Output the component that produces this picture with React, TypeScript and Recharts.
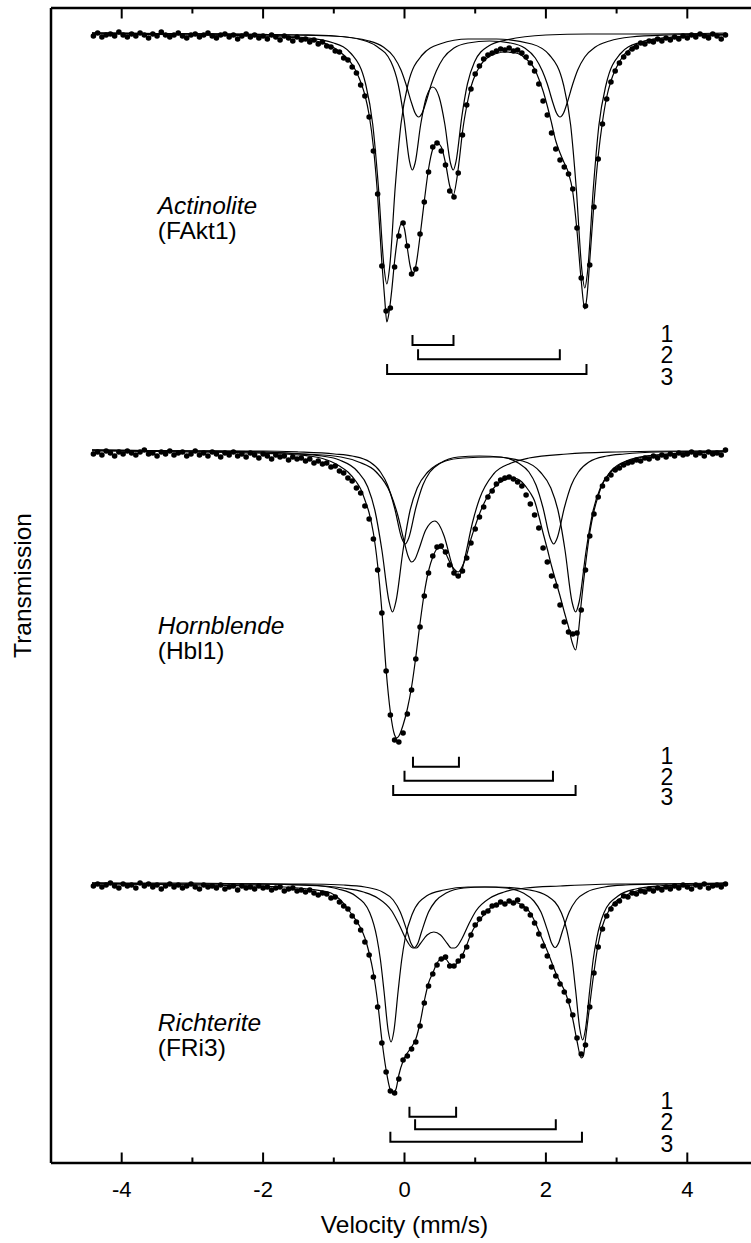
import React from 'react';
import { ComposedChart, Line, Scatter, XAxis, YAxis } from 'recharts';

const FONT = '"Liberation Sans", Arial, Helvetica, sans-serif';

// ---- velocity channels (mm/s) of the measured points ----
const channelStart = -4.4;
const channelStep = 0.06;

// ---- sample annotations ----
const spectrumNames = ['Actinolite', 'Hornblende', 'Richterite'];
const spectrumCodes = ['(FAkt1)', '(Hbl1)', '(FRi3)'];
const spectrumBaselines = [113.0, 71.3, 28.0]; // stacked offsets (a.u.)
const nameLabelV = -3.49;
const nameLabelY = [94.88, 52.88, 13.2];
const codeLineGap = 2.45;

// ---- measured absorption (depth below baseline, a.u.) per channel ----
const aktDots = [
  0.3, 0.0, 0.4, 0.2, 0.1, 0.3, -0.1, 0.2, 0.4, 0.1,
  0.3, 0.0, 0.2, 0.5, 0.1, 0.3, -0.1, 0.2, 0.4, 0.2,
  0.0, 0.3, 0.5, 0.2, 0.1, 0.4, 0.2, 0.0, 0.3, 0.5,
  0.2, 0.1, 0.4, 0.2, 0.6, 0.3, 0.1, 0.4, 0.2, 0.5,
  0.3, 0.6, 0.2, 0.4, 0.7, 0.3, 0.5, 0.8, 0.4, 0.7,
  0.6, 0.9, 0.7, 1.1, 0.9, 1.3, 1.4, 1.8, 1.9, 2.5,
  2.7, 3.4, 4.0, 5.2, 6.3, 8.4, 11.8, 16.1, 23.3, 27.8,
  27.5, 23.4, 20.3, 19.0, 21.3, 24.1, 23.6, 20.1, 16.9, 13.9,
  11.4, 11.0, 11.8, 13.2, 15.8, 16.4, 14.0, 10.2, 7.2, 5.6,
  4.1, 3.3, 2.6, 2.2, 2.0, 1.8, 1.6, 1.7, 1.5, 1.8,
  1.7, 2.0, 2.4, 3.0, 3.8, 5.1, 6.8, 8.2, 10.0, 11.6,
  12.7, 13.4, 14.1, 15.6, 19.5, 24.5, 27.3, 23.2, 17.4, 12.6,
  9.1, 6.6, 4.9, 3.8, 3.0, 2.4, 2.0, 1.6, 1.4, 1.0,
  1.1, 0.8, 0.9, 0.6, 0.8, 0.5, 0.7, 0.4, 0.6, 0.3,
  0.5, 0.2, 0.4, 0.1, 0.3, 0.5, 0.1, 0.3, 0.6, 0.2,
];
const hblDots = [
  0.4, 0.2, 0.5, 0.1, 0.3, 0.6, 0.2, 0.4, 0.1, 0.3,
  0.5, 0.2, 0.0, 0.4, 0.3, 0.6, 0.2, 0.4, 0.1, 0.5,
  0.3, 0.2, 0.6, 0.4, 0.1, 0.5, 0.3, 0.6, 0.2, 0.4,
  0.7, 0.3, 0.5, 0.2, 0.6, 0.4, 0.7, 0.3, 0.5, 0.8,
  0.4, 0.6, 0.9, 0.5, 0.7, 0.6, 1.0, 0.7, 0.9, 0.8,
  1.1, 0.9, 1.3, 1.1, 1.4, 1.3, 1.7, 1.6, 2.1, 2.3,
  2.8, 3.1, 3.8, 4.3, 5.6, 6.9, 8.9, 12.0, 16.3, 22.1,
  26.5, 29.0, 29.2, 28.3, 26.4, 24.0, 20.9, 17.7, 14.6, 12.3,
  10.6, 9.7, 9.6, 10.2, 11.5, 12.3, 12.6, 12.1, 10.8, 9.3,
  7.9, 6.7, 5.7, 4.7, 4.1, 3.4, 3.0, 2.8, 2.7, 2.9,
  3.2, 3.6, 4.5, 5.4, 6.5, 7.8, 9.8, 11.2, 12.6, 13.6,
  15.5, 17.2, 18.2, 18.4, 18.3, 16.0, 12.0, 8.6, 6.4, 4.7,
  3.6, 2.9, 2.5, 2.0, 1.8, 1.5, 1.3, 1.2, 1.0, 1.1,
  0.8, 0.9, 0.6, 0.8, 0.5, 0.7, 0.4, 0.6, 0.3, 0.5,
  0.4, 0.2, 0.5, 0.3, 0.6, 0.2, 0.4, 0.3, 0.5, 0.0,
];
const friDots = [
  0.3, 0.1, 0.4, 0.2, 0.0, 0.3, 0.5, 0.1, 0.3, 0.2,
  0.5, 0.0, 0.3, 0.1, 0.4, 0.2, 0.6, 0.3, 0.1, 0.4,
  0.2, 0.5, 0.3, 0.1, 0.4, 0.6, 0.2, 0.4, 0.3, 0.5,
  0.2, 0.6, 0.4, 0.3, 0.7, 0.3, 0.5, 0.4, 0.6, 0.3,
  0.5, 0.4, 0.7, 0.5, 0.4, 0.8, 0.6, 0.5, 0.8, 0.7,
  0.9, 0.7, 1.0, 1.2, 1.0, 1.1, 1.5, 1.4, 1.9, 2.3,
  2.6, 3.3, 3.9, 4.7, 5.9, 7.2, 9.4, 12.4, 16.0, 18.9,
  20.8, 21.0, 19.6, 17.7, 17.3, 16.6, 15.9, 14.3, 12.0, 10.3,
  9.1, 8.2, 7.6, 7.4, 8.3, 8.3, 7.8, 7.3, 6.4, 5.2,
  4.2, 3.6, 3.0, 2.8, 2.3, 2.2, 1.9, 2.1, 1.8, 2.0,
  1.7, 2.3, 2.6, 3.2, 4.0, 5.1, 6.3, 7.3, 8.4, 9.3,
  10.1, 10.9, 11.8, 13.2, 15.5, 17.1, 16.2, 12.4, 9.0, 6.4,
  4.6, 3.3, 2.6, 2.1, 1.8, 1.3, 1.4, 1.0, 1.1, 0.8,
  0.9, 0.6, 0.8, 0.5, 0.7, 0.4, 0.6, 0.3, 0.5, 0.2,
  0.4, 0.6, 0.2, 0.4, 0.1, 0.5, 0.3, 0.2, 0.4, 0.1,
];

// ---- fitted envelopes [velocity, depth] ----
type P = [number, number];
const aktFit: P[] = [
  [-4.42, 0.1], [-4.0, 0.1], [-3.5, 0.15], [-3.0, 0.2], [-2.5, 0.25], [-2.0, 0.3], [-1.7, 0.4], [-1.5, 0.5],
  [-1.34, 0.65], [-1.22, 0.85], [-1.1, 1.1], [-1.04, 1.3], [-0.98, 1.55], [-0.92, 1.85], [-0.86, 2.2], [-0.8, 2.6],
  [-0.74, 3.15], [-0.68, 3.9], [-0.62, 4.9], [-0.56, 6.2], [-0.5, 8.2], [-0.44, 11.4], [-0.38, 16.3], [-0.32, 23.0],
  [-0.28, 26.6], [-0.25, 28.9], [-0.22, 28.0], [-0.18, 25.7], [-0.14, 22.8], [-0.08, 19.8], [-0.04, 19.0], [0.0, 19.6],
  [0.04, 21.5], [0.08, 23.3], [0.12, 24.1], [0.16, 23.3], [0.22, 20.3], [0.28, 16.8], [0.34, 13.6], [0.4, 11.6],
  [0.46, 11.0], [0.52, 11.4], [0.58, 13.0], [0.64, 15.3], [0.69, 16.2], [0.74, 14.6], [0.78, 12.4], [0.82, 9.9],
  [0.88, 7.3], [0.94, 5.4], [1.0, 4.2], [1.06, 3.4], [1.12, 2.8], [1.18, 2.45], [1.24, 2.2], [1.3, 2.05],
  [1.42, 1.9], [1.54, 1.95], [1.66, 2.25], [1.72, 2.6], [1.78, 3.0], [1.84, 3.6], [1.9, 4.6], [1.96, 5.8],
  [2.02, 7.3], [2.08, 9.0], [2.14, 10.8], [2.2, 12.0], [2.26, 13.0], [2.32, 14.0], [2.38, 15.9], [2.44, 19.8],
  [2.5, 24.8], [2.55, 27.6], [2.58, 26.4], [2.62, 22.8], [2.68, 17.0], [2.74, 12.3], [2.8, 8.9], [2.86, 6.4],
  [2.92, 4.8], [2.98, 3.7], [3.04, 2.9], [3.1, 2.2], [3.16, 1.8], [3.22, 1.45], [3.28, 1.15], [3.4, 0.8],
  [3.6, 0.55], [3.8, 0.4], [4.0, 0.3], [4.3, 0.2], [4.55, 0.15],
];
const aktComp1: P[] = [
  [-4.42, 0.0], [-2.5, 0.1], [-1.5, 0.2], [-1.0, 0.3], [-0.6, 0.7], [-0.4, 1.3], [-0.19, 2.9], [-0.09, 5.1],
  [-0.01, 8.4], [0.07, 12.8], [0.11, 13.7], [0.15, 13.0], [0.23, 9.1], [0.31, 6.4], [0.4, 5.4], [0.49, 6.4],
  [0.57, 9.1], [0.65, 13.0], [0.69, 13.7], [0.73, 12.8], [0.81, 8.4], [0.89, 5.1], [0.99, 2.9], [1.19, 1.3],
  [1.44, 0.7], [2.0, 0.2], [2.6, 0.1], [3.4, 0.1], [4.55, 0.0],
];
const aktComp2: P[] = [
  [-4.42, 0.0], [-2.5, 0.1], [-1.5, 0.2], [-1.0, 0.3], [-0.5, 0.8], [-0.3, 1.4], [-0.15, 2.4], [-0.05, 3.7],
  [0.02, 5.1], [0.1, 7.0], [0.15, 8.0], [0.2, 8.4], [0.25, 8.0], [0.3, 7.0], [0.38, 5.1], [0.45, 3.8],
  [0.55, 2.5], [0.7, 1.5], [0.9, 1.0], [1.2, 0.8], [1.5, 1.0], [1.7, 1.5], [1.85, 2.5], [1.95, 3.8],
  [2.02, 5.1], [2.1, 7.0], [2.15, 8.0], [2.2, 8.4], [2.25, 8.0], [2.3, 7.0], [2.38, 5.1], [2.45, 3.7],
  [2.55, 2.4], [2.7, 1.4], [2.9, 0.8], [3.2, 0.4], [3.7, 0.2], [4.55, 0.1],
];
const aktComp3: P[] = [
  [-4.42, 0.0], [-3.0, 0.1], [-2.0, 0.2], [-1.5, 0.4], [-1.0, 1.0], [-0.75, 2.1], [-0.55, 5.1], [-0.45, 9.1],
  [-0.37, 15.3], [-0.29, 23.4], [-0.25, 25.1], [-0.21, 23.4], [-0.13, 15.3], [-0.05, 9.1], [0.05, 5.1], [0.25, 2.2],
  [0.5, 1.1], [0.9, 0.6], [1.3, 0.6], [1.8, 1.1], [2.05, 2.2], [2.25, 5.2], [2.35, 9.2], [2.43, 15.6],
  [2.51, 23.8], [2.55, 25.5], [2.59, 23.8], [2.67, 15.6], [2.75, 9.2], [2.85, 5.2], [3.05, 2.1], [3.3, 1.0],
  [3.8, 0.4], [4.55, 0.2],
];

const hblFit: P[] = [
  [-4.42, 0.1], [-4.0, 0.12], [-3.5, 0.15], [-3.0, 0.2], [-2.5, 0.25], [-2.0, 0.32], [-1.7, 0.4], [-1.5, 0.5],
  [-1.3, 0.65], [-1.16, 0.85], [-1.04, 1.15], [-0.92, 1.6], [-0.8, 2.2], [-0.68, 3.2], [-0.62, 3.9], [-0.56, 5.0],
  [-0.5, 6.3], [-0.44, 8.3], [-0.38, 11.5], [-0.32, 16.1], [-0.26, 22.0], [-0.2, 26.2], [-0.14, 28.5], [-0.11, 28.8],
  [-0.08, 28.6], [-0.02, 27.5], [0.04, 25.9], [0.1, 23.7], [0.16, 20.7], [0.22, 17.3], [0.28, 14.3], [0.34, 12.1],
  [0.4, 10.7], [0.46, 9.9], [0.52, 9.8], [0.58, 10.3], [0.64, 11.2], [0.7, 11.9], [0.76, 12.2], [0.82, 11.6],
  [0.88, 10.5], [0.94, 8.9], [1.0, 7.6], [1.06, 6.4], [1.12, 5.4], [1.18, 4.6], [1.24, 4.0], [1.3, 3.5],
  [1.36, 3.2], [1.42, 3.0], [1.48, 2.85], [1.54, 2.8], [1.6, 2.9], [1.66, 3.2], [1.72, 3.7], [1.78, 4.3],
  [1.84, 5.1], [1.9, 6.6], [1.96, 8.3], [2.02, 9.9], [2.08, 11.6], [2.14, 13.1], [2.2, 14.6], [2.26, 16.2],
  [2.32, 17.7], [2.37, 19.2], [2.42, 20.0], [2.46, 18.2], [2.5, 15.3], [2.56, 11.5], [2.62, 8.3], [2.68, 6.1],
  [2.74, 4.6], [2.8, 3.4], [2.86, 2.7], [2.92, 2.2], [2.98, 1.8], [3.04, 1.5], [3.1, 1.25], [3.2, 1.0],
  [3.28, 0.85], [3.4, 0.65], [3.6, 0.5], [3.8, 0.35], [4.0, 0.25], [4.3, 0.15], [4.55, 0.1],
];
const hblComp1: P[] = [
  [-4.42, 0.0], [-3.0, 0.1], [-2.0, 0.2], [-1.4, 0.4], [-0.9, 0.7], [-0.65, 1.2], [-0.4, 2.2], [-0.2, 4.3],
  [-0.1, 6.4], [0.0, 9.3], [0.05, 10.6], [0.1, 11.2], [0.15, 10.9], [0.2, 10.0], [0.3, 8.0], [0.43, 7.1],
  [0.56, 8.6], [0.66, 11.2], [0.71, 12.4], [0.76, 12.7], [0.81, 12.1], [0.86, 10.6], [0.96, 7.3], [1.06, 4.9],
  [1.26, 2.4], [1.51, 1.3], [1.76, 0.8], [2.3, 0.4], [3.0, 0.2], [4.0, 0.1], [4.55, 0.1],
];
const hblComp2: P[] = [
  [-4.42, 0.0], [-3.0, 0.1], [-2.0, 0.1], [-1.5, 0.2], [-0.99, 0.4], [-0.74, 0.6], [-0.49, 1.2], [-0.34, 2.2],
  [-0.24, 3.5], [-0.14, 5.8], [-0.04, 8.8], [0.01, 9.4], [0.06, 8.8], [0.16, 5.8], [0.26, 3.5], [0.36, 2.2],
  [0.51, 1.3], [0.76, 0.7], [1.06, 0.6], [1.36, 0.7], [1.61, 1.3], [1.76, 2.2], [1.86, 3.5], [1.96, 5.8],
  [2.06, 8.8], [2.11, 9.4], [2.16, 8.8], [2.26, 5.8], [2.36, 3.5], [2.46, 2.2], [2.61, 1.2], [2.86, 0.6],
  [3.11, 0.4], [3.6, 0.2], [4.55, 0.1],
];
const hblComp3: P[] = [
  [-4.42, 0.0], [-3.0, 0.1], [-2.0, 0.2], [-1.5, 0.4], [-1.17, 0.6], [-0.92, 1.0], [-0.67, 2.1], [-0.52, 3.7],
  [-0.42, 6.0], [-0.32, 10.0], [-0.22, 15.1], [-0.17, 16.2], [-0.12, 15.1], [-0.02, 10.0], [0.08, 6.0], [0.18, 3.8],
  [0.33, 2.2], [0.58, 1.1], [0.83, 0.8], [1.25, 0.7], [1.67, 1.1], [1.92, 2.2], [2.07, 3.8], [2.17, 6.0],
  [2.27, 10.0], [2.37, 15.2], [2.42, 16.2], [2.47, 15.2], [2.57, 10.0], [2.67, 6.0], [2.77, 3.8], [2.92, 2.1],
  [3.17, 1.0], [3.42, 0.6], [4.0, 0.3], [4.55, 0.2],
];

const friFit: P[] = [
  [-4.42, 0.1], [-4.0, 0.12], [-3.5, 0.15], [-3.0, 0.2], [-2.5, 0.25], [-2.0, 0.32], [-1.7, 0.4], [-1.5, 0.5],
  [-1.3, 0.65], [-1.16, 0.8], [-1.04, 1.0], [-0.92, 1.6], [-0.8, 2.6], [-0.74, 3.2], [-0.68, 3.8], [-0.62, 4.5],
  [-0.56, 5.5], [-0.5, 7.0], [-0.44, 9.0], [-0.38, 11.9], [-0.32, 15.7], [-0.26, 18.7], [-0.2, 20.7], [-0.16, 21.0],
  [-0.12, 20.6], [-0.08, 19.2], [-0.02, 17.8], [0.04, 17.0], [0.1, 16.4], [0.16, 15.6], [0.22, 14.0], [0.28, 11.8],
  [0.34, 10.0], [0.4, 9.0], [0.46, 8.0], [0.52, 7.6], [0.58, 7.6], [0.64, 8.1], [0.7, 8.2], [0.76, 7.9],
  [0.82, 7.2], [0.88, 6.2], [0.94, 5.1], [1.0, 4.3], [1.06, 3.7], [1.12, 3.2], [1.18, 2.7], [1.24, 2.4],
  [1.3, 2.2], [1.36, 2.05], [1.48, 1.95], [1.6, 2.0], [1.66, 2.2], [1.72, 2.5], [1.78, 3.0], [1.84, 3.8],
  [1.9, 4.8], [1.96, 5.8], [2.02, 6.8], [2.08, 7.9], [2.14, 9.0], [2.2, 9.9], [2.26, 10.7], [2.32, 11.9],
  [2.38, 13.6], [2.44, 15.8], [2.5, 17.5], [2.53, 17.3], [2.56, 15.6], [2.62, 12.2], [2.68, 8.9], [2.74, 6.1],
  [2.8, 4.3], [2.86, 3.2], [2.92, 2.4], [2.98, 1.9], [3.04, 1.6], [3.1, 1.35], [3.2, 1.0], [3.28, 0.8],
  [3.4, 0.6], [3.6, 0.45], [3.8, 0.35], [4.0, 0.25], [4.3, 0.15], [4.55, 0.1],
];
const friComp1: P[] = [
  [-4.42, 0.0], [-3.0, 0.1], [-2.0, 0.1], [-1.4, 0.2], [-0.88, 0.5], [-0.58, 0.9], [-0.38, 1.5], [-0.18, 2.8],
  [-0.08, 4.1], [0.02, 5.6], [0.07, 6.2], [0.12, 6.5], [0.17, 6.5], [0.22, 6.1], [0.32, 5.2], [0.415, 4.9],
  [0.51, 5.2], [0.61, 6.1], [0.66, 6.5], [0.71, 6.5], [0.76, 6.2], [0.81, 5.6], [0.91, 4.1], [1.01, 2.8],
  [1.21, 1.5], [1.41, 0.9], [1.71, 0.5], [2.2, 0.3], [3.0, 0.1], [4.0, 0.1], [4.55, 0.0],
];
const friComp2: P[] = [
  [-4.42, 0.0], [-3.0, 0.0], [-2.0, 0.1], [-1.4, 0.1], [-0.86, 0.2], [-0.56, 0.4], [-0.31, 0.9], [-0.16, 1.7],
  [-0.06, 2.9], [0.04, 4.9], [0.09, 6.0], [0.14, 6.45], [0.19, 6.0], [0.24, 4.9], [0.34, 2.9], [0.44, 1.8],
  [0.59, 1.0], [0.84, 0.5], [1.135, 0.4], [1.43, 0.5], [1.68, 1.0], [1.83, 1.8], [1.93, 2.9], [2.03, 4.9],
  [2.08, 6.0], [2.13, 6.45], [2.18, 6.0], [2.23, 4.9], [2.33, 2.9], [2.43, 1.7], [2.58, 0.9], [2.83, 0.4],
  [3.13, 0.2], [3.6, 0.1], [4.55, 0.0],
];
const friComp3: P[] = [
  [-4.42, 0.0], [-3.0, 0.1], [-2.0, 0.1], [-1.5, 0.2], [-1.19, 0.3], [-0.94, 0.6], [-0.69, 1.3], [-0.49, 3.0],
  [-0.39, 5.5], [-0.34, 7.7], [-0.29, 10.8], [-0.23, 14.8], [-0.19, 15.9], [-0.15, 14.8], [-0.09, 10.8], [-0.04, 7.7],
  [0.01, 5.5], [0.11, 3.1], [0.31, 1.3], [0.56, 0.7], [0.9, 0.4], [1.3, 0.4], [1.77, 0.7], [2.02, 1.3],
  [2.22, 3.0], [2.32, 5.5], [2.37, 7.6], [2.42, 10.7], [2.48, 14.6], [2.52, 15.7], [2.56, 14.6], [2.62, 10.7],
  [2.67, 7.6], [2.72, 5.5], [2.82, 3.0], [3.02, 1.3], [3.27, 0.6], [3.6, 0.3], [4.0, 0.2], [4.55, 0.1],
];

// ---- doublet brackets: [left line, right line] velocities ----
const doubletLabels = ['1', '2', '3'];
const doubletLabelV = 3.71;
const bracketHeight = 1.0;
const aktBrackets: P[] = [[0.113, 0.693], [0.192, 2.197], [-0.246, 2.574]];
const aktBracketY = [81.8, 80.37, 78.9];
const aktLabelY = [82.9, 80.8, 78.6];
const hblBrackets: P[] = [[0.12, 0.77], [0.0, 2.1], [-0.16, 2.42]];
const hblBracketY = [39.63, 38.23, 36.8];
const hblLabelY = [40.7, 38.63, 36.6];
const friBrackets: P[] = [[0.07, 0.73], [0.15, 2.14], [-0.2, 2.51]];
const friBracketY = [4.63, 3.37, 2.13];
const friLabelY = [6.23, 4.13, 1.9];

// ---- axis ticks ----
const xTicks = [-4, -3, -2, -1, 0, 1, 2, 3, 4];
const xMajor = [-4, -2, 0, 2, 4];

// ---------------------------------------------------------------
const spectra = [
  { base: spectrumBaselines[0], dots: aktDots, curves: [aktFit, aktComp1, aktComp2, aktComp3], brackets: aktBrackets, bracketY: aktBracketY, labelY: aktLabelY },
  { base: spectrumBaselines[1], dots: hblDots, curves: [hblFit, hblComp1, hblComp2, hblComp3], brackets: hblBrackets, bracketY: hblBracketY, labelY: hblLabelY },
  { base: spectrumBaselines[2], dots: friDots, curves: [friFit, friComp1, friComp2, friComp3], brackets: friBrackets, bracketY: friBracketY, labelY: friLabelY },
];

const toLine = (pairs: P[], base: number) => pairs.map(([v, d]) => ({ x: v, y: base - d }));
const toDots = (depths: number[], base: number) =>
  depths.map((d, i) => ({ x: +(channelStart + i * channelStep).toFixed(3), y: base - d }));
const toBracket = ([a, b]: P, yl: number) => [
  { x: a, y: yl + bracketHeight },
  { x: a, y: yl },
  { x: b, y: yl },
  { x: b, y: yl + bracketHeight },
];

const nameTexts = spectrumNames.flatMap((n, i) => [
  { x: nameLabelV, y: nameLabelY[i], text: n, italic: true },
  { x: nameLabelV, y: nameLabelY[i] - codeLineGap, text: spectrumCodes[i], italic: false },
]);
const numberTexts = spectra.flatMap((s) =>
  doubletLabels.map((t, k) => ({ x: doubletLabelV, y: s.labelY[k], text: t }))
);

const DotShape = (p: any) => <circle cx={p.cx} cy={p.cy} r={2.8} fill="#000" />;
const NameShape = (p: any) => {
  const d = p.payload || p;
  return (
    <text x={p.cx} y={p.cy} fontFamily={FONT} fontSize={24.5} fontStyle={d.italic ? 'italic' : 'normal'} fill="#000">
      {d.text}
    </text>
  );
};
const NumShape = (p: any) => {
  const d = p.payload || p;
  return (
    <text x={p.cx} y={p.cy + 8} fontFamily={FONT} fontSize={23} textAnchor="middle" fill="#000">
      {d.text}
    </text>
  );
};

const BottomTick = (p: any) => {
  const v = p.payload.value;
  const major = xMajor.includes(v);
  return (
    <g>
      <line x1={p.x} x2={p.x} y1={p.y} y2={p.y - (major ? 10.5 : 5.5)} stroke="#000" strokeWidth={2} />
      {major && (
        <text x={p.x} y={p.y + 34} textAnchor="middle" fontFamily={FONT} fontSize={22} fill="#000">
          {String(v)}
        </text>
      )}
    </g>
  );
};
const TopTick = (p: any) => {
  const v = p.payload.value;
  const major = xMajor.includes(v);
  return <line x1={p.x} x2={p.x} y1={p.y} y2={p.y + (major ? 10.5 : 5.5)} stroke="#000" strokeWidth={2} />;
};

export default function App() {
  return (
    <div style={{ position: 'absolute', left: 0, top: 0, width: 751, height: 1243, overflow: 'hidden', background: '#fff' }}>
      <ComposedChart width={760} height={1243} margin={{ top: 7, right: 2, bottom: 79, left: 0 }}>
        <XAxis
          xAxisId="v"
          dataKey="x"
          type="number"
          domain={[-5, 5]}
          allowDataOverflow
          ticks={xTicks}
          interval={0}
          tickLine={false}
          tickSize={0}
          tickMargin={0}
          tick={BottomTick}
          height={1}
          axisLine={{ stroke: '#000', strokeWidth: 2.5 }}
          label={{ value: 'Velocity (mm/s)', position: 'bottom', offset: 51.6, fill: '#000', fontSize: 24.5, fontFamily: FONT }}
        />
        <XAxis
          xAxisId="top"
          orientation="top"
          dataKey="x"
          type="number"
          domain={[-5, 5]}
          allowDataOverflow
          ticks={xTicks}
          interval={0}
          tickLine={false}
          tickSize={0}
          tickMargin={0}
          tick={TopTick}
          height={1}
          axisLine={{ stroke: '#000', strokeWidth: 2.5 }}
        />
        <YAxis
          type="number"
          domain={[0, 115.5]}
          allowDataOverflow
          tick={false}
          tickLine={false}
          width={51}
          axisLine={{ stroke: '#000', strokeWidth: 2.5 }}
          label={{ value: 'Transmission', angle: -90, position: 'insideLeft', offset: 22, style: { textAnchor: 'middle' }, fill: '#000', fontSize: 24.5, fontFamily: FONT }}
        />
        {spectra.map((s, si) =>
          s.curves.map((c, ci) => (
            <Line
              key={`c${si}-${ci}`}
              xAxisId="v"
              data={toLine(c, s.base)}
              dataKey="y"
              type="monotone"
              stroke="#000"
              strokeWidth={1.2}
              dot={false}
              activeDot={false}
              isAnimationActive={false}
            />
          ))
        )}
        {spectra.map((s, si) =>
          s.brackets.map((b, bi) => (
            <Line
              key={`b${si}-${bi}`}
              xAxisId="v"
              data={toBracket(b, s.bracketY[bi])}
              dataKey="y"
              type="linear"
              stroke="#000"
              strokeWidth={2}
              dot={false}
              activeDot={false}
              isAnimationActive={false}
            />
          ))
        )}
        {spectra.map((s, si) => (
          <Scatter key={`d${si}`} xAxisId="v" data={toDots(s.dots, s.base)} dataKey="y" shape={DotShape} isAnimationActive={false} />
        ))}
        <Scatter xAxisId="v" data={nameTexts} dataKey="y" shape={NameShape} isAnimationActive={false} />
        <Scatter xAxisId="v" data={numberTexts} dataKey="y" shape={NumShape} isAnimationActive={false} />
      </ComposedChart>
    </div>
  );
}
